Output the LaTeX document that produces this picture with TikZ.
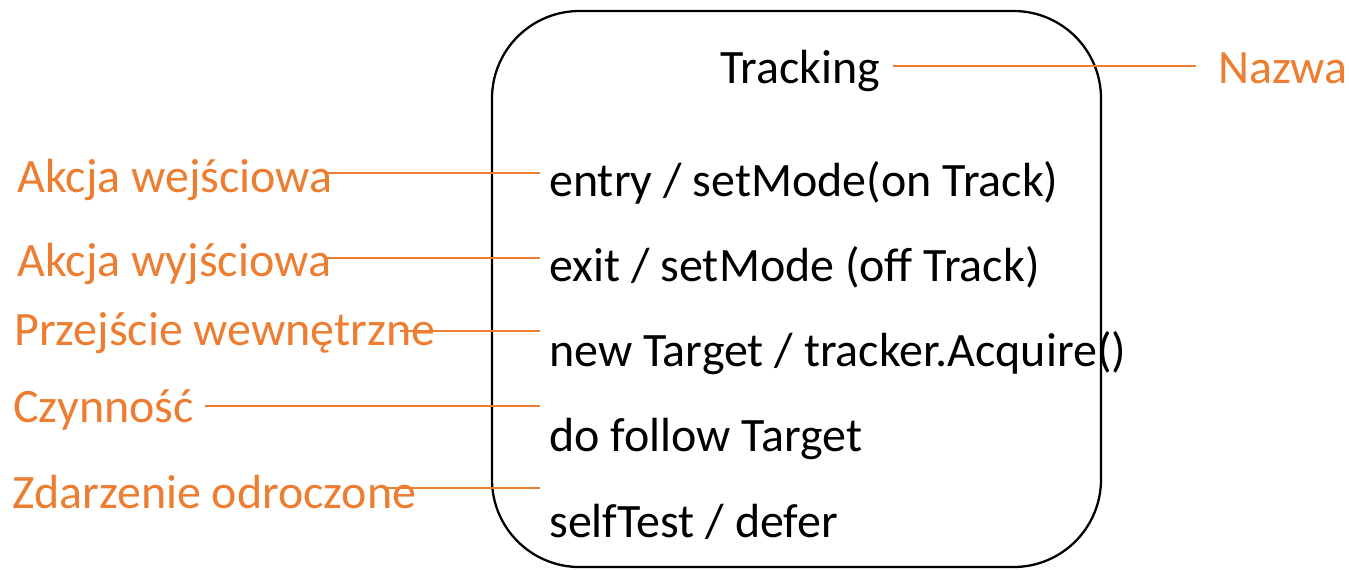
\documentclass[tikz,border=0pt]{standalone}
\usepackage{fontspec}
\setmainfont{Carlito}
\definecolor{tagorange}{HTML}{ED7D31}

\begin{document}
\begin{tikzpicture}[x = 0.02cm, y = -0.02cm,
	item/.style = {anchor = base west, inner sep = 0pt, font = \fontsize{27.3}{33}\selectfont},
	tag/.style = {item, text = tagorange},
	leader/.style = {tagorange, line width = 1.4pt}]

	\useasboundingbox (0, 0) rectangle (1349, 569);

	% State box

	\draw [line width = 1.3pt, rounded corners = 1.75cm] (492, 11) rectangle (1101, 567);

	% State name + its label

	\node [item] (name) at (720, 83) {Tracking};
	\node [tag] (tag0) at (1218, 83) {Nazwa};
	\coordinate (lead0) at (893, 66);
	\draw [leader, shorten > = 0.44cm] (lead0) -- (lead0 -| tag0.west);

	% Internal rows + their labels

	\foreach \n/\tx/\tb/\ib/\ly/\lx/\tagtext/\itemtext in {
		1/17/192/196/173/325/{Akcja wejściowa}/{entry / setMode(on Track)},
		2/17/276/281/258/325/{Akcja wyjściowa}/{exit / setMode (off Track)},
		3/14/345/366/331/400/{Przejście wewnętrzne}/{new Target / tracker.Acquire()},
		4/13/422/451/406/205/{Czynność}/{do follow Target},
		5/12/508/537/488/385/{Zdarzenie odroczone}/{selfTest / defer}}
	{
		\node [tag] (tag\n) at (\tx, \tb) {\tagtext};
		\node [item] (row\n) at (549, \ib) {\itemtext};
		\coordinate (lead\n) at (\lx, \ly);
		\draw [leader, shorten > = 0.18cm] (lead\n) -- (lead\n -| row\n.west);
	}

\end{tikzpicture}
\end{document}
